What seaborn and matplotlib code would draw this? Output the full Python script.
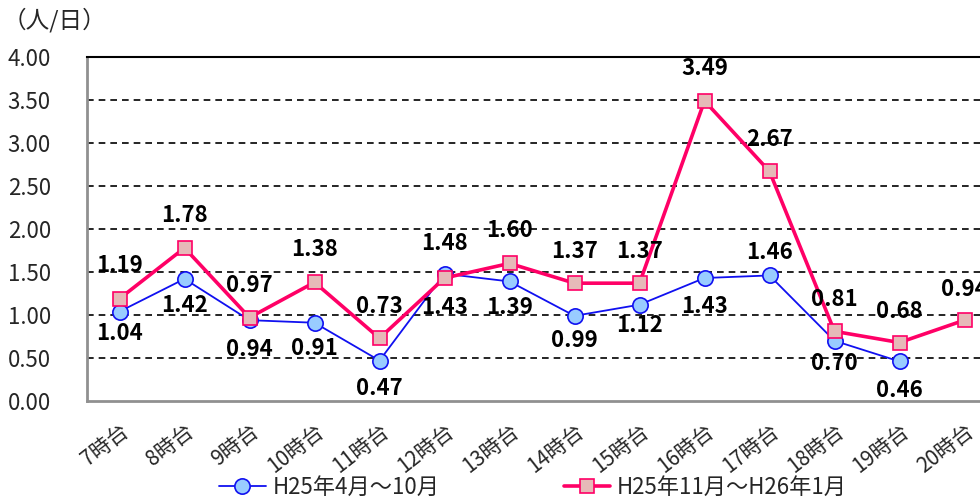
#!/usr/bin/env python3
"""Hourly average per day, two periods, line chart."""

import matplotlib
matplotlib.use("Agg")
import matplotlib.pyplot as plt
import numpy as np
import pandas as pd
import seaborn as sns

hours = ["7時台", "8時台", "9時台", "10時台", "11時台", "12時台", "13時台",
         "14時台", "15時台", "16時台", "17時台", "18時台", "19時台", "20時台"]
series_a_name = "H25年4月～10月"
series_b_name = "H25年11月～H26年1月"
series_a = [1.04, 1.42, 0.94, 0.91, 0.47, 1.48, 1.39, 0.99, 1.12, 1.43, 1.46, 0.70, 0.46, np.nan]
series_b = [1.19, 1.78, 0.97, 1.38, 0.73, 1.43, 1.60, 1.37, 1.37, 3.49, 2.67, 0.81, 0.68, 0.94]
y_ticks = [0.0, 0.5, 1.0, 1.5, 2.0, 2.5, 3.0, 3.5, 4.0]

# label offsets in pixels (negative = above the point)
a_label_dy = [22, 27, 29, 26, 28, -30, 26, 25, 21, 28, -23, 23, 29, 0]
b_label_dy = [-33, -32, -32, -33, -32, 29, -33, -32, -32, -32, -32, -32, -31, -31]

BLUE = "#1010F0"
BLUE_FACE = "#99CCFF"
PINK = "#FF0066"
PINK_FACE = "#E6B9B8"

sns.set_style("white")
plt.rcParams["font.family"] = ["Noto Sans CJK JP", "DejaVu Sans"]

df = pd.DataFrame({"hour": range(len(hours)), "a": series_a, "b": series_b})

fig = plt.figure(figsize=(9.8, 4.99), dpi=100)
ax = fig.add_axes([87 / 980, 1 - 401 / 499, (997 - 87) / 980, (401 - 57) / 499])

sns.lineplot(data=df, x="hour", y="a", ax=ax, color=BLUE, linewidth=1.3,
             marker="o", markersize=11, markerfacecolor=BLUE_FACE,
             markeredgecolor=BLUE, markeredgewidth=1.2, label=series_a_name, zorder=3)
sns.lineplot(data=df, x="hour", y="b", ax=ax, color=PINK, linewidth=2.6,
             marker="s", markersize=9.5, markerfacecolor=PINK_FACE,
             markeredgecolor=PINK, markeredgewidth=1.2, label=series_b_name, zorder=4)

for i, v in enumerate(series_a):
    if np.isnan(v):
        continue
    ax.annotate(f"{v:.2f}", (i, v), xytext=(0, -a_label_dy[i]), textcoords="offset pixels",
                ha="center", va="center", fontsize=16, fontweight="bold", color="black",
                zorder=6, annotation_clip=False)
for i, v in enumerate(series_b):
    ax.annotate(f"{v:.2f}", (i, v), xytext=(0, -b_label_dy[i]), textcoords="offset pixels",
                ha="center", va="center", fontsize=16, fontweight="bold", color="black",
                zorder=6, annotation_clip=False)

ax.set_xlim(-0.5, len(hours) - 0.5)
ax.set_ylim(0, 4)
ax.set_yticks(y_ticks)
ax.set_yticklabels([f"{t:.2f}" for t in y_ticks], fontsize=16)
ax.set_xticks(range(len(hours)))
ax.set_xticklabels(hours, fontsize=15, rotation=38, ha="right", va="top",
                   rotation_mode="anchor")
ax.set_xticks(np.arange(-0.5, len(hours), 1), minor=True)
ax.tick_params(axis="x", which="major", length=0, pad=14)
ax.tick_params(axis="x", which="minor", length=6, width=1.2, color="#909090", direction="out")
ax.tick_params(axis="y", length=6, width=1.2, color="#909090", direction="out", pad=20)
ax.set_xlabel("")
ax.set_ylabel("")

ax.grid(False)
for t in y_ticks[1:-1]:
    ax.axhline(t, color="black", linewidth=1.2, linestyle=(0, (4, 3)), zorder=1)

ax.spines["left"].set_color("#909090")
ax.spines["left"].set_linewidth(2)
ax.spines["bottom"].set_color("#909090")
ax.spines["bottom"].set_linewidth(2)
ax.spines["top"].set_color("black")
ax.spines["top"].set_linewidth(1.5)
ax.spines["right"].set_visible(False)

ax.get_legend().remove()
handles, labels = ax.get_legend_handles_labels()
fig.legend(handles, labels, loc="center", bbox_to_anchor=(533 / 980, 1 - 487 / 499),
           ncol=2, frameon=False, fontsize=16, handlelength=2.1, handletextpad=0.3,
           columnspacing=5.6)

fig.text(3 / 980, 1 - 20 / 499, "（人/日）", fontsize=17, ha="left", va="center")

fig.savefig("out.png", dpi=100)
